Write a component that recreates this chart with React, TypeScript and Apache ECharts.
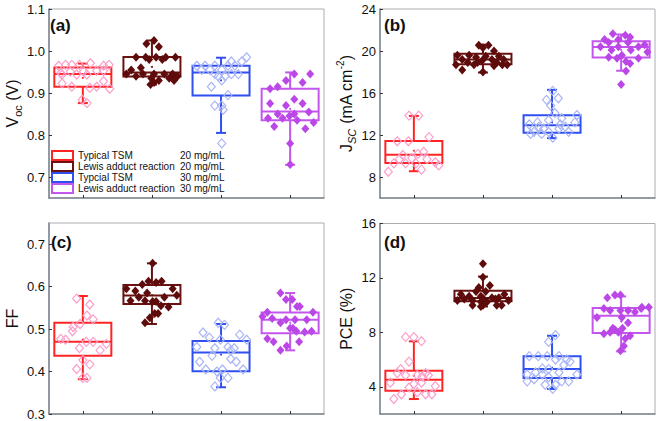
import React, { useEffect, useRef } from 'react';
import * as echarts from 'echarts';

// ---------- groups ----------
const groupNames = ['Typical TSM', 'Lewis adduct reaction', 'Typcial TSM', 'Lewis adduct reaction'];
const groupConc = ['20 mg/mL', '20 mg/mL', '30 mg/mL', '30 mg/mL'];
const boxColors = ['#ff2424', '#6a1111', '#2f4ff0', '#c456ee'];
const pointColors = ['#fb9fcb', '#5e0b0b', '#a9b5f6', '#ba47e6'];
const pointFilled = [false, true, false, true];

// ---------- tick labels ----------
const vocTicks = [0.7, 0.8, 0.9, 1.0, 1.1];
const jscTicks = [8, 12, 16, 20, 24];
const ffTicks = [0.3, 0.4, 0.5, 0.6, 0.7];
const pceTicks = [4, 8, 12, 16];
const catTicks = [0, 1, 2, 3];

// ---------- box stats: [whiskerLow, q1, median, q3, whiskerHigh, mean] ----------
const vocBoxes = [
  [0.876, 0.915, 0.945, 0.961, 0.97, 0.936],
  [0.92, 0.939, 0.949, 0.986, 1.025, 0.962],
  [0.805, 0.894, 0.949, 0.965, 0.984, 0.93],
  [0.729, 0.835, 0.856, 0.91, 0.949, 0.862],
];
const jscBoxes = [
  [8.55, 9.33, 10.12, 11.43, 13.82, 10.5],
  [17.95, 18.75, 19.2, 19.75, 20.6, 19.25],
  [11.7, 12.22, 12.94, 13.88, 16.3, 13.2],
  [18.12, 19.37, 20.38, 20.94, 21.57, 20.1],
];
const ffBoxes = [
  [0.382, 0.437, 0.47, 0.515, 0.578, 0.475],
  [0.512, 0.559, 0.579, 0.604, 0.655, 0.58],
  [0.363, 0.401, 0.445, 0.472, 0.512, 0.44],
  [0.45, 0.49, 0.522, 0.539, 0.585, 0.515],
];
const pceBoxes = [
  [3.1, 3.71, 4.52, 5.18, 7.34, 4.8],
  [9.9, 10.28, 10.52, 11.06, 12.1, 10.7],
  [3.84, 4.64, 5.3, 6.24, 7.75, 5.4],
  [6.6, 7.95, 9.22, 9.79, 10.64, 8.8],
];

// ---------- individual devices: [jitter (category units), value] ----------
const vocTypical20 = [[-0.35,0.965],[-0.25,0.967],[-0.16,0.967],[-0.05,0.967],[0.11,0.971],[0.3,0.965],[0.38,0.967],[-0.32,0.947],[-0.18,0.951],[0.01,0.951],[0.2,0.953],[0.3,0.953],[-0.3,0.944],[-0.09,0.944],[0.06,0.944],[0.3,0.928],[-0.3,0.923],[-0.16,0.915],[0.1,0.912],[0.2,0.915],[0.39,0.91],[-0.01,0.884],[0.06,0.876]];
const vocLewis20 = [[0.03,1.025],[-0.08,1.017],[0.1,1.01],[-0.23,0.985],[-0.09,0.985],[0.06,0.985],[0.2,0.985],[0.34,0.985],[-0.04,0.98],[0.15,0.98],[-0.16,0.96],[-0.3,0.955],[-0.37,0.945],[-0.13,0.945],[0.03,0.945],[0.18,0.945],[0.3,0.945],[-0.23,0.94],[0.37,0.94],[-0.01,0.935],[0.25,0.935],[0.1,0.93],[0.32,0.93],[0.03,0.925],[-0.02,0.92]];
const vocTypical30 = [[0.37,0.985],[0.15,0.975],[0.3,0.975],[-0.35,0.965],[-0.23,0.965],[-0.09,0.965],[0.1,0.965],[0.2,0.965],[-0.28,0.955],[-0.16,0.955],[0.01,0.955],[-0.09,0.945],[0.15,0.945],[0.25,0.945],[-0.04,0.94],[0.06,0.94],[0.01,0.93],[-0.14,0.915],[0.1,0.895],[-0.09,0.87],[0.01,0.87],[0.03,0.86],[0.01,0.78]];
const vocLewis30 = [[0.06,0.945],[0.29,0.945],[-0.06,0.93],[0.18,0.925],[-0.18,0.915],[-0.29,0.91],[0.06,0.885],[-0.29,0.875],[0.18,0.875],[-0.06,0.87],[0.27,0.855],[-0.18,0.85],[0.06,0.85],[-0.01,0.845],[-0.32,0.84],[-0.11,0.84],[0.1,0.835],[0.34,0.83],[-0.23,0.82],[0.22,0.815],[0,0.78],[0,0.73]];

const jscTypical20 = [[-0.07,13.85],[0.07,13.85],[0.22,11.8],[-0.24,11.4],[-0.08,11.4],[0.14,10.4],[0.06,10.2],[-0.16,10.1],[-0.03,9.8],[-0.21,9.7],[0.19,9.7],[0.31,9.4],[-0.29,9.3],[-0.12,9.3],[0.03,9.3],[0.36,9.1],[0.11,8.7],[-0.37,8.5]];
const jscLewis20 = [[-0.06,20.55],[0.08,20.55],[0,20.3],[0.16,20.0],[-0.37,19.6],[-0.2,19.6],[0.04,19.5],[0.23,19.5],[-0.1,19.4],[-0.3,19.2],[0.13,19.2],[0.3,19.2],[-0.01,19.1],[-0.22,18.9],[-0.08,18.9],[0.2,18.9],[-0.39,18.7],[-0.13,18.7],[0.28,18.7],[0.35,18.7],[0.16,18.6],[-0.3,18.2],[0,18.0]];
const jscTypical30 = [[0.01,16.2],[0.09,15.5],[-0.08,15.35],[-0.02,14.8],[0.04,14.1],[0.36,13.9],[0.14,13.6],[-0.05,13.4],[-0.21,13.2],[0.33,13.2],[-0.33,13.0],[0.12,13.0],[-0.19,12.8],[0.19,12.8],[-0.12,12.6],[0.1,12.6],[-0.26,12.3],[-0.05,12.3],[0.24,12.3],[-0.31,12.1],[-0.15,12.1],[0.01,11.75]];
const jscLewis30 = [[-0.12,21.65],[0.06,21.5],[0.13,21.3],[-0.24,21.1],[-0.04,21.1],[-0.18,20.8],[0.1,20.8],[0.34,20.6],[-0.3,20.4],[-0.04,20.4],[0.25,20.4],[-0.14,20.1],[0.14,20.1],[0.38,19.9],[0.01,19.6],[-0.18,19.4],[-0.06,19.3],[0.25,19.3],[0.07,19.0],[0.13,18.8],[0.07,18.1],[0,16.8]];

const ffTypical20 = [[-0.09,0.572],[0.1,0.558],[0.06,0.532],[0.15,0.523],[-0.04,0.512],[-0.14,0.505],[-0.15,0.495],[-0.32,0.477],[-0.25,0.475],[0.05,0.47],[0.15,0.47],[0.34,0.465],[-0.05,0.455],[0.25,0.45],[0,0.427],[0.1,0.417],[-0.09,0.406],[0,0.385],[0.06,0.385]];
const ffLewis20 = [[0.01,0.655],[-0.05,0.613],[0.14,0.613],[0.06,0.61],[-0.14,0.605],[-0.37,0.595],[0.3,0.595],[-0.24,0.59],[-0.07,0.585],[0.36,0.58],[-0.19,0.575],[0.18,0.575],[-0.31,0.567],[-0.1,0.567],[0.01,0.565],[0.06,0.565],[0.13,0.555],[0.24,0.552],[0.04,0.537],[0.09,0.537],[-0.03,0.527],[-0.1,0.515]];
const ffTypical30 = [[-0.04,0.515],[0.05,0.51],[-0.26,0.492],[0.27,0.487],[-0.17,0.48],[-0.01,0.475],[0.37,0.475],[-0.35,0.458],[0.1,0.458],[-0.09,0.455],[0.19,0.455],[0.14,0.45],[-0.13,0.437],[0.14,0.43],[-0.31,0.423],[0.22,0.423],[-0.22,0.405],[0.02,0.405],[0.32,0.405],[-0.06,0.4],[-0.01,0.385],[0.1,0.385],[-0.09,0.365]];
const ffLewis30 = [[-0.14,0.585],[-0.06,0.57],[0.03,0.57],[0.1,0.553],[0.14,0.553],[-0.33,0.54],[0.33,0.54],[-0.4,0.53],[-0.26,0.525],[-0.06,0.522],[0.07,0.522],[0.24,0.522],[-0.14,0.515],[0,0.502],[0.04,0.502],[0.09,0.495],[0.31,0.495],[0.21,0.493],[-0.33,0.477],[-0.24,0.47],[0.13,0.47],[-0.05,0.46],[-0.14,0.45]];

const pceTypical20 = [[-0.12,7.65],[0,7.65],[0.11,7.35],[-0.07,5.85],[-0.19,5.3],[-0.24,5.0],[0.17,5.0],[-0.12,4.85],[0.05,4.85],[0.21,4.85],[0.12,4.75],[-0.34,4.3],[0.11,4.3],[0,4.2],[0.31,4.05],[-0.07,3.95],[0.05,3.6],[-0.18,3.45],[0.17,3.45],[0.26,3.45],[-0.29,3.1]];
const pceLewis20 = [[0,13.05],[0,12.05],[0.1,11.45],[-0.06,11.3],[-0.1,11.0],[0.04,11.0],[-0.32,10.8],[0.31,10.8],[-0.2,10.65],[-0.03,10.65],[0.13,10.55],[0.23,10.55],[-0.27,10.45],[0.01,10.45],[0.18,10.45],[-0.37,10.35],[-0.15,10.35],[0.37,10.35],[-0.03,10.25],[0.06,10.25],[-0.15,10.0],[0,10.0],[0.2,10.0],[0.27,10.0],[-0.03,9.9]];
const pceTypical30 = [[0.05,7.8],[-0.05,7.3],[-0.33,6.25],[-0.2,6.25],[-0.07,6.25],[0.1,6.25],[0.05,6.0],[0.21,6.0],[0.26,5.85],[0.17,5.6],[-0.14,5.35],[-0.05,5.3],[-0.24,5.05],[0.1,5.05],[-0.36,4.9],[-0.14,4.9],[0.36,4.9],[-0.05,4.7],[-0.26,4.55],[-0.36,4.4],[0.14,4.4],[0.24,4.4],[-0.1,4.15],[0.05,4.15],[0.01,3.85]];
const pceLewis30 = [[-0.09,10.75],[-0.01,10.75],[-0.2,10.55],[0.3,9.85],[0.4,9.85],[-0.25,9.75],[0.29,9.75],[-0.16,9.6],[-0.01,9.6],[0.1,9.6],[0.2,9.5],[-0.35,9.1],[0.01,9.1],[0.1,8.7],[-0.12,8.3],[0.02,8.3],[-0.09,8.2],[-0.16,8.0],[-0.04,8.0],[-0.25,7.9],[0.13,7.75],[0.06,7.55],[0.04,7.0],[-0.01,6.65]];

// ---------- panels ----------
const panels = [
  { label: '(a)', min: 0.65, max: 1.1, ticks: vocTicks, dec: 1, boxes: vocBoxes,
    points: [vocTypical20, vocLewis20, vocTypical30, vocLewis30],
    name: 'V{sub|oc} (V)', nameGap: 25,
    grid: { left: 46, top: 9, width: 278, height: 189 }, labelPos: [50, 17] },
  { label: '(b)', min: 6, max: 24, ticks: jscTicks, dec: 0, boxes: jscBoxes,
    points: [jscTypical20, jscLewis20, jscTypical30, jscLewis30],
    name: 'J{subi|SC} (mA cm{sup|-2})', nameGap: 23,
    grid: { left: 380, top: 9, width: 275, height: 189 }, labelPos: [384, 17] },
  { label: '(c)', min: 0.3, max: 0.75, ticks: ffTicks, dec: 1, boxes: ffBoxes,
    points: [ffTypical20, ffLewis20, ffTypical30, ffLewis30],
    name: '{m|FF}', nameGap: 24,
    grid: { left: 46, top: 223, width: 278, height: 191 }, labelPos: [51, 234] },
  { label: '(d)', min: 2, max: 16, ticks: pceTicks, dec: 0, boxes: pceBoxes,
    points: [pceTypical20, pceLewis20, pceTypical30, pceLewis30],
    name: '{m|PCE (%)}', nameGap: 23,
    grid: { left: 380, top: 223.5, width: 275, height: 190.5 }, labelPos: [384, 234] },
];

const FONT = '"Liberation Sans", Arial, Helvetica, sans-serif';
const AXIS_COLOR = '#7c8690';
const BOX_W = 57;
const CAP_W = 10;

const seriesName = (g: number) => `${groupNames[g]} ${groupConc[g]}`;

export default function App() {
  const ref = useRef<HTMLDivElement>(null);

  useEffect(() => {
    document.body.style.margin = '0';
    if (!ref.current) return;
    const chart = echarts.init(ref.current, undefined, { renderer: 'svg' });

    const grids: any[] = [];
    const xAxes: any[] = [];
    const yAxes: any[] = [];
    const series: any[] = [];
    const graphics: any[] = [];

    panels.forEach((p, pi) => {
      grids.push({ ...p.grid, show: true, borderColor: '#a9adb2', borderWidth: 1, containLabel: false });
      xAxes.push({
        type: 'value', gridIndex: pi, min: -0.49, max: 3.49, position: 'bottom',
        axisLine: { show: true, onZero: false, lineStyle: { color: AXIS_COLOR, width: 1.5 } },
        axisTick: { show: true, inside: true, length: 3, customValues: catTicks, lineStyle: { color: '#333', width: 1 } },
        axisLabel: { show: false },
        splitLine: { show: false },
      });
      yAxes.push({
        type: 'value', gridIndex: pi, min: p.min, max: p.max, position: 'left',
        name: p.name, nameLocation: 'middle', nameGap: p.nameGap, nameRotate: 90,
        nameTextStyle: {
          fontFamily: FONT, fontSize: 16, color: '#111', lineHeight: 22,
          rich: {
            m: { fontFamily: FONT, fontSize: 16, color: '#111', lineHeight: 22 },
            sub: { fontFamily: FONT, fontSize: 11, color: '#111', lineHeight: 10, verticalAlign: 'bottom' },
            subi: { fontFamily: FONT, fontSize: 11, fontStyle: 'italic', color: '#111', lineHeight: 10, verticalAlign: 'bottom' },
            sup: { fontFamily: FONT, fontSize: 10, color: '#111', lineHeight: 10, verticalAlign: 'top' },
          },
        },
        axisLine: { show: true, onZero: false, lineStyle: { color: AXIS_COLOR, width: 1.5 } },
        axisTick: { show: true, inside: true, length: 3, customValues: p.ticks, lineStyle: { color: '#333', width: 1 } },
        axisLabel: {
          show: true, customValues: p.ticks, margin: 4,
          fontFamily: FONT, fontSize: 13, color: '#111',
          formatter: (v: number) => v.toFixed(p.dec),
        },
        splitLine: { show: false },
      });

      p.boxes.forEach((b, g) => {
        const color = boxColors[g];
        series.push({
          type: 'custom', name: seriesName(g), xAxisIndex: pi, yAxisIndex: pi, z: 2,
          itemStyle: { color },
          encode: { x: 0, y: [1, 2, 3, 4, 5] },
          data: [[g, ...b]],
          renderItem: (_params: any, api: any) => {
            const x = api.value(0);
            const lo = api.coord([x, api.value(1)]);
            const q1 = api.coord([x, api.value(2)]);
            const md = api.coord([x, api.value(3)]);
            const q3 = api.coord([x, api.value(4)]);
            const hi = api.coord([x, api.value(5)]);
            const mn = api.coord([x, api.value(6)]);
            const hw = BOX_W / 2;
            const cw = CAP_W / 2;
            const st = { stroke: color, lineWidth: 2, fill: 'none' };
            return {
              type: 'group',
              children: [
                { type: 'line', shape: { x1: hi[0], y1: hi[1], x2: q3[0], y2: q3[1] }, style: st },
                { type: 'line', shape: { x1: q1[0], y1: q1[1], x2: lo[0], y2: lo[1] }, style: st },
                { type: 'line', shape: { x1: hi[0] - cw, y1: hi[1], x2: hi[0] + cw, y2: hi[1] }, style: st },
                { type: 'line', shape: { x1: lo[0] - cw, y1: lo[1], x2: lo[0] + cw, y2: lo[1] }, style: st },
                { type: 'rect', shape: { x: q3[0] - hw, y: q3[1], width: BOX_W, height: q1[1] - q3[1] }, style: st },
                { type: 'line', shape: { x1: md[0] - hw, y1: md[1], x2: md[0] + hw, y2: md[1] }, style: st },
                { type: 'circle', shape: { cx: mn[0], cy: mn[1], r: 1 }, style: { fill: color } },
              ],
            };
          },
        });
      });

      p.points.forEach((pts, g) => {
        series.push({
          type: 'scatter', name: `${seriesName(g)} devices`, xAxisIndex: pi, yAxisIndex: pi, z: 3,
          symbol: 'diamond', symbolSize: [8, 9],
          itemStyle: pointFilled[g]
            ? { color: pointColors[g], opacity: 1 }
            : { color: 'rgba(255,255,255,0)', borderColor: pointColors[g], borderWidth: 1.2, opacity: 1 },
          data: pts.map(([j, v]) => [g + j, v]),
        });
      });

      graphics.push({
        type: 'text', left: p.labelPos[0], top: p.labelPos[1],
        style: { text: p.label, font: `bold 17px ${FONT}`, fill: '#111' },
      });
    });

    const option: any = {
      animation: false,
      backgroundColor: '#fff',
      grid: grids,
      xAxis: xAxes,
      yAxis: yAxes,
      series,
      graphic: graphics,
      legend: {
        show: true, orient: 'vertical', left: 51, top: 150, padding: 0,
        itemWidth: 21, itemHeight: 9, itemGap: 0, selectedMode: false,
        data: [0, 1, 2, 3].map((g) => ({
          name: seriesName(g), icon: 'rect',
          itemStyle: { color: '#fff', borderColor: boxColors[g], borderWidth: 2 },
        })),
        formatter: (name: string) => {
          const g = [0, 1, 2, 3].find((i) => seriesName(i) === name) ?? 0;
          return `{n|${groupNames[g]}}{c|${groupConc[g]}}`;
        },
        textStyle: {
          fontFamily: FONT, fontSize: 10, color: '#111', lineHeight: 9,
          rich: {
            n: { width: 102, fontFamily: FONT, fontSize: 10, color: '#111', lineHeight: 9 },
            c: { fontFamily: FONT, fontSize: 10, color: '#111', lineHeight: 9 },
          },
        },
      },
    };

    chart.setOption(option);
    return () => chart.dispose();
  }, []);

  return <div ref={ref} style={{ width: 661, height: 421 }} />;
}
